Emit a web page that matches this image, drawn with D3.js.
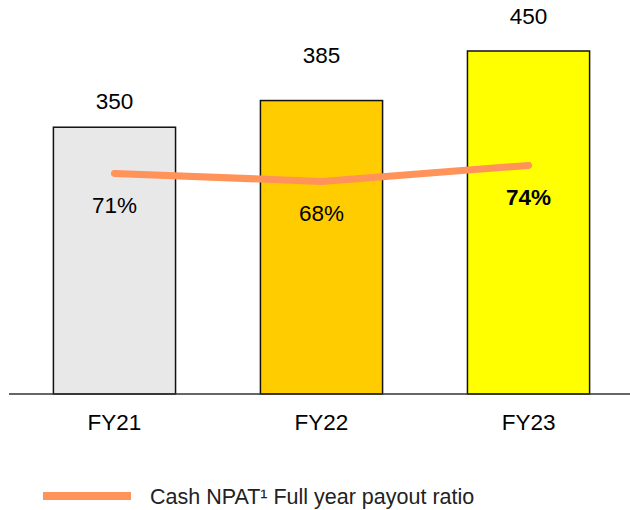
<!DOCTYPE html>
<html>
<head>
<meta charset="utf-8">
<script src="https://cdn.jsdelivr.net/npm/d3@7/dist/d3.min.js"></script>
<style>
  html, body { margin: 0; padding: 0; background: #fff; }
  svg { display: block; font-family: "Liberation Sans", Arial, sans-serif; }
</style>
</head>
<body>
<svg id="chart" width="630" height="510"></svg>
<script>
// ---- data ----
const categories = ["FY21", "FY22", "FY23"];
const dividendValues = [350, 385, 450];
const payoutRatios = [71, 68, 74];
const barColors = ["#E8E8E8", "#FFCC00", "#FFFF00"];
const boldPayout = [false, false, true];
const valueLabelGap = [18, 38, 27];
const legendLabel = "Cash NPAT\u00B9 Full year payout ratio";
const lineColor = "#FF9359";

// ---- layout ----
const svg = d3.select("#chart");
const baseline = 394;
const labelFont = 22.5;

const x = d3.scaleBand()
  .domain(categories)
  .range([12, 631])
  .paddingInner(0.41)
  .paddingOuter(0.2);

const y = d3.scaleLinear().domain([0, 450]).range([baseline, 51]);
const y2 = d3.scaleLinear().domain([0, 100]).range([362.9, 96]);

const data = categories.map((c, i) => ({
  cat: c, value: dividendValues[i], ratio: payoutRatios[i],
  color: barColors[i], bold: boldPayout[i], gap: valueLabelGap[i]
}));

// bars
svg.append("g").selectAll("rect").data(data).join("rect")
  .attr("x", d => x(d.cat))
  .attr("y", d => y(d.value))
  .attr("width", x.bandwidth())
  .attr("height", d => y(0) - y(d.value))
  .attr("fill", d => d.color)
  .attr("stroke", "#111")
  .attr("stroke-width", 1.5);

// baseline
svg.append("line")
  .attr("x1", 9).attr("x2", 630)
  .attr("y1", baseline).attr("y2", baseline)
  .attr("stroke", "#333").attr("stroke-width", 1.5);

// x axis labels
const xAxis = d3.axisBottom(x).tickSize(0).tickPadding(20);
const gx = svg.append("g").attr("transform", `translate(0,${baseline})`).call(xAxis);
gx.select(".domain").remove();
gx.selectAll("text")
  .attr("font-size", labelFont)
  .attr("fill", "#000")
  .attr("font-family", "Liberation Sans, Arial, sans-serif");

// value labels
svg.append("g").selectAll("text").data(data).join("text")
  .attr("x", d => x(d.cat) + x.bandwidth() / 2)
  .attr("y", d => y(d.value) - d.gap)
  .attr("text-anchor", "middle")
  .attr("font-size", labelFont)
  .attr("fill", "#000")
  .text(d => d.value);

// payout line
const line = d3.line()
  .x(d => x(d.cat) + x.bandwidth() / 2)
  .y(d => y2(d.ratio));
svg.append("path")
  .datum(data)
  .attr("d", line)
  .attr("fill", "none")
  .attr("stroke", lineColor)
  .attr("stroke-width", 7)
  .attr("stroke-linecap", "round")
  .attr("stroke-linejoin", "round");

// payout labels
svg.append("g").selectAll("text").data(data).join("text")
  .attr("x", d => x(d.cat) + x.bandwidth() / 2)
  .attr("y", d => y2(d.ratio) + 40)
  .attr("text-anchor", "middle")
  .attr("font-size", labelFont)
  .attr("font-weight", d => d.bold ? "bold" : "normal")
  .attr("fill", "#000")
  .text(d => d.ratio + "%");

// legend
const lg = svg.append("g");
lg.append("line")
  .attr("x1", 43).attr("x2", 131)
  .attr("y1", 496).attr("y2", 496)
  .attr("stroke", lineColor)
  .attr("stroke-width", 8);
lg.append("text")
  .attr("x", 150).attr("y", 504)
  .attr("font-size", 21.5)
  .attr("fill", "#222")
  .text(legendLabel);
</script>
</body>
</html>
